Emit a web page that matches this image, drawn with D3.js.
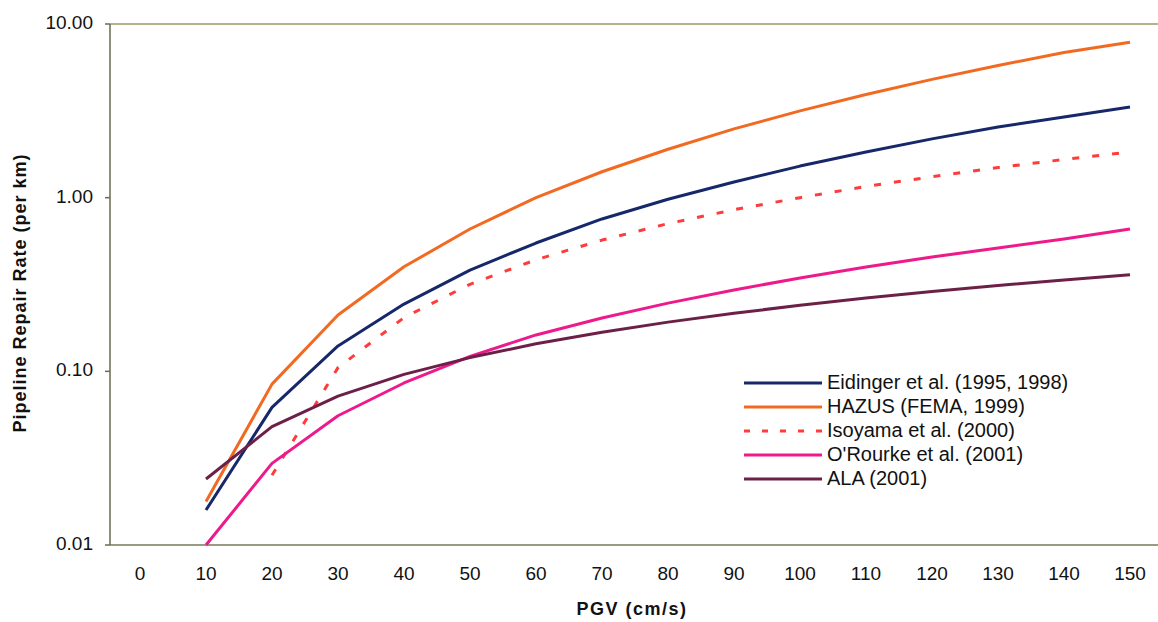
<!DOCTYPE html>
<html>
<head>
<meta charset="utf-8">
<script src="https://cdn.jsdelivr.net/npm/d3@7"></script>
<style>
  body { margin: 0; background: #fff; }
  text { font-family: Arial, "Liberation Sans", sans-serif; fill: #111; }
  .tick-label { font-size: 19px; }
  .axis-title { font-size: 18px; font-weight: bold; }
  .legend-caption { font-size: 20px; }
</style>
</head>
<body>
<svg id="chart" width="1158" height="622"></svg>
<script>
// PGV categories (cm/s)
const pgv = [0, 10, 20, 30, 40, 50, 60, 70, 80, 90, 100, 110, 120, 130, 140, 150];
const yTicks = [0.01, 0.1, 1, 10];

// repair rates per km (null = no point)
const eidinger = [null, 0.0159, 0.062, 0.140, 0.244, 0.383, 0.548, 0.754, 0.98, 1.23, 1.52, 1.83, 2.18, 2.55, 2.91, 3.33];
const hazus    = [null, 0.0178, 0.0844, 0.211, 0.400, 0.660, 1.00, 1.41, 1.90, 2.49, 3.16, 3.93, 4.80, 5.77, 6.85, 7.86];
const isoyama  = [null, null, 0.0252, 0.105, 0.204, 0.317, 0.439, 0.570, 0.709, 0.852, 1.00, 1.16, 1.32, 1.49, 1.66, 1.83];
const orourke  = [null, 0.0100, 0.0295, 0.0555, 0.0857, 0.122, 0.162, 0.203, 0.247, 0.294, 0.345, 0.399, 0.455, 0.513, 0.578, 0.660];
const ala      = [null, 0.024, 0.048, 0.072, 0.096, 0.120, 0.144, 0.168, 0.192, 0.216, 0.240, 0.264, 0.288, 0.312, 0.336, 0.360];

const seriesNames = ["Eidinger et al. (1995, 1998)", "HAZUS (FEMA, 1999)", "Isoyama et al. (2000)", "O'Rourke et al. (2001)", "ALA (2001)"];
const seriesValues = [eidinger, hazus, isoyama, orourke, ala];
const seriesColors = ["#16286a", "#f26a21", "#ff3b3b", "#ee1a8c", "#6c2048"];
const seriesDash = [null, null, "7,13", null, null];

const svg = d3.select("#chart");
const plot = { left: 110, right: 1162, top: 24, bottom: 545 };

const x = d3.scalePoint()
  .domain(pgv)
  .range([140, 1130]);

const y = d3.scaleLog()
  .domain([0.01, 10])
  .range([plot.bottom, plot.top]);

// Plot frame
svg.append("line")
  .attr("x1", plot.left).attr("x2", plot.right)
  .attr("y1", plot.top).attr("y2", plot.top)
  .attr("stroke", "#9a9a68").attr("stroke-width", 1.5);
svg.append("line")
  .attr("x1", plot.left).attr("x2", plot.right)
  .attr("y1", plot.bottom).attr("y2", plot.bottom)
  .attr("stroke", "#7a7a5a").attr("stroke-width", 1.5);
svg.append("line")
  .attr("x1", plot.left).attr("x2", plot.left)
  .attr("y1", plot.top).attr("y2", plot.bottom)
  .attr("stroke", "#6a6a50").attr("stroke-width", 1.5);

// Y axis ticks & labels
const yAxis = svg.append("g");
yAxis.selectAll("line")
  .data(yTicks)
  .enter()
  .append("line")
    .attr("x1", plot.left - 5).attr("x2", plot.left)
    .attr("y1", d => y(d)).attr("y2", d => y(d))
    .attr("stroke", "#6a6a50").attr("stroke-width", 1.5);
yAxis.selectAll("text")
  .data(yTicks)
  .enter()
  .append("text")
    .attr("class", "tick-label")
    .attr("x", plot.left - 17)
    .attr("y", d => y(d))
    .attr("dominant-baseline", "middle")
    .attr("text-anchor", "end")
    .text(d => d3.format(".2f")(d));

// X axis labels
svg.append("g")
  .selectAll("text")
  .data(pgv)
  .enter()
  .append("text")
    .attr("class", "tick-label")
    .attr("x", d => x(d))
    .attr("y", 580)
    .attr("text-anchor", "middle")
    .text(d => d);

// Axis titles
svg.append("text")
  .attr("class", "axis-title")
  .attr("x", 632).attr("y", 615)
  .attr("text-anchor", "middle")
  .attr("letter-spacing", "1.5px")
  .text("PGV (cm/s)");
svg.append("text")
  .attr("class", "axis-title")
  .attr("transform", "translate(26,293) rotate(-90)")
  .attr("text-anchor", "middle")
  .attr("letter-spacing", "1px")
  .text("Pipeline Repair Rate (per km)");

// Series lines
const line = d3.line()
  .defined(d => d.v != null)
  .x(d => x(d.p))
  .y(d => y(d.v));

seriesValues.forEach((vals, i) => {
  const pts = pgv.map((p, j) => ({ p: p, v: vals[j] }));
  svg.append("path")
    .datum(pts)
    .attr("fill", "none")
    .attr("stroke", seriesColors[i])
    .attr("stroke-width", 3)
    .attr("stroke-linejoin", "round")
    .attr("stroke-dasharray", seriesDash[i])
    .attr("d", line);
});

// Legend
const legend = svg.append("g");
const legY0 = 383, legDY = 24;
seriesNames.forEach((name, i) => {
  legend.append("line")
    .attr("x1", 744).attr("x2", 822)
    .attr("y1", legY0 + i * legDY).attr("y2", legY0 + i * legDY)
    .attr("stroke", seriesColors[i])
    .attr("stroke-width", 3)
    .attr("stroke-dasharray", seriesDash[i] ? "6,12" : null);
  legend.append("text")
    .attr("class", "legend-caption")
    .attr("x", 827)
    .attr("y", legY0 + i * legDY + 1)
    .attr("dominant-baseline", "middle")
    .text(name);
});
</script>
</body>
</html>
